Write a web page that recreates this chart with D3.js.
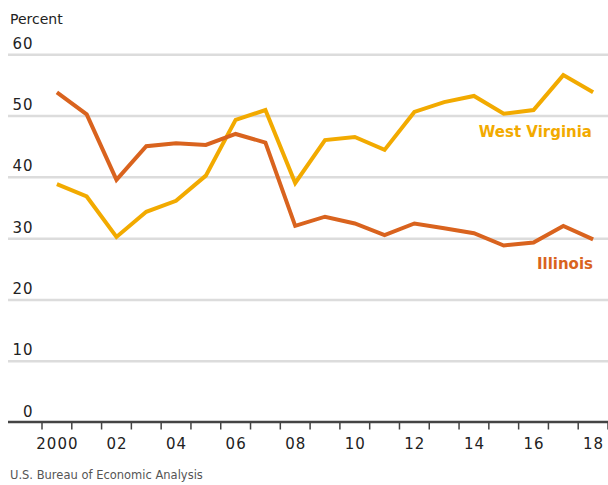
<!DOCTYPE html>
<html>
<head>
<meta charset="utf-8">
<script src="https://cdn.jsdelivr.net/npm/d3@7"></script>
<style>
  body { margin: 0; background: #fff; }
  svg text { font-family: "DejaVu Sans", sans-serif; }
</style>
</head>
<body>
<script>
// data
var years = d3.range(2000, 2019);
var illinois = [53.8, 50.2, 39.5, 45.0, 45.5, 45.2, 47.0, 45.6, 32.0, 33.5, 32.4, 30.5, 32.4, 31.6, 30.8, 28.8, 29.3, 32.0, 29.8];
var westVirginia = [38.8, 36.8, 30.2, 34.3, 36.1, 40.2, 49.3, 50.9, 39.0, 46.0, 46.5, 44.4, 50.6, 52.2, 53.2, 50.3, 50.9, 56.6, 53.8];
var yTicks = [0, 10, 20, 30, 40, 50, 60];
var xLabels = [2000, 2002, 2004, 2006, 2008, 2010, 2012, 2014, 2016, 2018];

var width = 608,
    height = 485;

var svg = d3.select("body").append("svg")
    .attr("width", width)
    .attr("height", height);

var x = d3.scaleBand()
    .domain(years)
    .range([42, 608])
    .padding(0);

var y = d3.scaleLinear()
    .domain([0, 60])
    .range([422, 54.3]);

// gridlines + y labels
var yAxis = d3.axisLeft(y)
    .tickValues(yTicks)
    .tickSize(0)
    .tickFormat(d3.format("d"));

var gy = svg.append("g").call(yAxis);
gy.select(".domain").remove();
gy.selectAll(".tick text")
    .attr("x", 33.5)
    .attr("dy", "-6px")
    .attr("text-anchor", "end")
    .style("font-size", "15px")
    .style("letter-spacing", "1px")
    .attr("fill", "#222");

gy.selectAll(".tick")
    .filter(function(d) { return d > 0; })
    .append("line")
    .attr("x1", 8)
    .attr("x2", 608)
    .attr("stroke", "#dcdcdc")
    .attr("stroke-width", 2.5);

gy.selectAll(".tick text").raise();

svg.append("text")
    .attr("x", 10)
    .attr("y", 24)
    .attr("fill", "#222")
    .style("font-size", "14px")
    .text("Percent");

// x axis: labels at even years, ticks at band edges
var xAxis = d3.axisBottom(x)
    .tickValues(xLabels)
    .tickSize(0)
    .tickPadding(0)
    .tickFormat(function(d) { return d === 2000 ? "2000" : d3.format("02d")(d % 100); });

var gx = svg.append("g")
    .attr("transform", "translate(0,422)")
    .call(xAxis);
gx.select(".domain").remove();
gx.selectAll(".tick text")
    .attr("y", 26.5)
    .attr("dy", 0)
    .attr("dx", "0.5px")
    .style("font-size", "15px")
    .style("letter-spacing", "1px")
    .attr("fill", "#222");

var edges = years.map(function(d) { return x(d); }).concat([x.range()[1]]);
svg.append("g").selectAll("line")
    .data(edges)
    .enter().append("line")
    .attr("x1", function(d) { return d; })
    .attr("x2", function(d) { return d; })
    .attr("y1", 422)
    .attr("y2", 429.5)
    .attr("stroke", "#444")
    .attr("stroke-width", 1.5);

svg.append("line")
    .attr("x1", 8)
    .attr("x2", 608)
    .attr("y1", y(0))
    .attr("y2", y(0))
    .attr("stroke", "#444")
    .attr("stroke-width", 2.5);

// the two lines
var line = d3.line()
    .x(function(d, i) { return x(years[i]) + x.bandwidth() / 2; })
    .y(function(d) { return y(d); });

svg.append("path")
    .datum(westVirginia)
    .attr("d", line)
    .attr("fill", "none")
    .attr("stroke", "#f2aa00")
    .attr("stroke-width", 4);

svg.append("path")
    .datum(illinois)
    .attr("d", line)
    .attr("fill", "none")
    .attr("stroke", "#d9631e")
    .attr("stroke-width", 4);

svg.append("text")
    .attr("x", 592)
    .attr("y", 137)
    .attr("text-anchor", "end")
    .attr("fill", "#f2aa00")
    .style("font-size", "15px")
    .style("font-weight", "bold")
    .text("West Virginia");

svg.append("text")
    .attr("x", 593)
    .attr("y", 268.5)
    .attr("text-anchor", "end")
    .attr("fill", "#d9631e")
    .style("font-size", "15px")
    .style("font-weight", "bold")
    .text("Illinois");

svg.append("text")
    .attr("x", 10)
    .attr("y", 479)
    .attr("fill", "#555")
    .style("font-size", "11.5px")
    .text("U.S. Bureau of Economic Analysis");
</script>
</body>
</html>
